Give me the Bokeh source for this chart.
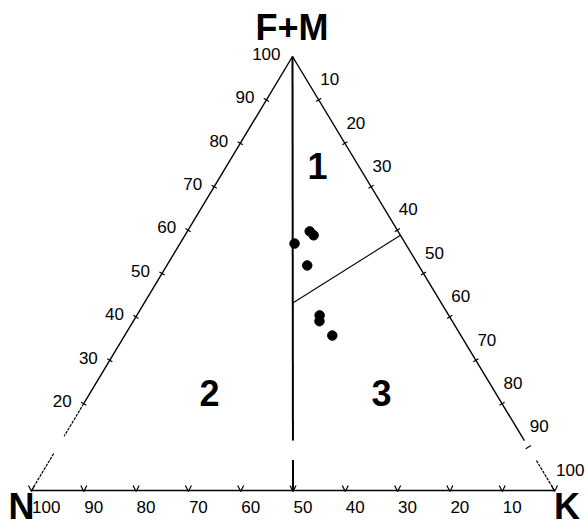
import numpy as np
from bokeh.plotting import figure
from bokeh.models import Range1d
from bokeh.embed import file_html
from bokeh.resources import INLINE
from bokeh.core.properties import value

# ---- data (ternary compositions, percent) ----
sample_N = [21.2, 16.9, 16.6, 21.3, 24.7, 25.4, 24.6]
sample_K = [21.9, 23.4, 24.6, 26.85, 34.95, 35.6, 39.7]
sample_FM = [56.9, 59.7, 58.8, 51.85, 40.35, 39.0, 35.7]

boundary_N = [28.4, 0.0]
boundary_K = [28.4, 41.2]
boundary_FM = [43.2, 58.8]

base_tick_labels = [100, 90, 80, 70, 60, 50, 40, 30, 20, 10]
left_tick_labels = [100, 90, 80, 70, 60, 50, 40, 30, 20]
right_tick_labels = [10, 20, 30, 40, 50, 60, 70, 80, 90, 100]
vertex_names = ["N", "K", "F+M"]
field_names = ["1", "2", "3"]

# ---- layout (page pixels) ----
W, H = 588, 529
VN = (31.0, 490.0)
VK = (554.0, 490.0)
VA = (292.0, 56.0)


def tern(n, k, fm):
    n = np.asarray(n, dtype=float)
    k = np.asarray(k, dtype=float)
    fm = np.asarray(fm, dtype=float)
    s = n + k + fm
    x = (n * VN[0] + k * VK[0] + fm * VA[0]) / s
    y = (n * VN[1] + k * VK[1] + fm * VA[1]) / s
    return x, y


p = figure(width=W, height=H, x_range=Range1d(0, W), y_range=Range1d(H, 0),
           output_backend="svg", toolbar_location=None, min_border=0)
p.axis.visible = False
p.grid.visible = False
p.outline_line_color = None
p.background_fill_color = "white"
p.border_fill_color = "white"


def seg(a, b, **kw):
    xs, ys = tern([a[0], b[0]], [a[1], b[1]], [a[2], b[2]])
    p.line(list(xs), list(ys), line_color="black", **kw)


# edges (with the blank band near the base)
seg((0, 0, 100), (80, 0, 20), line_width=1.4)
seg((80, 0, 20), (87.5, 0, 12.5), line_width=1.2, line_dash="3 1")
seg((91.5, 0, 8.5), (100, 0, 0), line_width=1.2, line_dash="3 1")
seg((0, 0, 100), (0, 88.5, 11.5), line_width=1.4)
seg((0, 93.1, 6.9), (0, 100, 0), line_width=1.2, line_dash="3 1")
seg((100, 0, 0), (0, 100, 0), line_width=1.6)
# N = K divider
seg((0, 0, 100), (44.25, 44.25, 11.5), line_width=2)
seg((46.5, 46.5, 7.0), (50, 50, 0), line_width=2)
# boundary between fields 1 and 3
bx, by = tern(boundary_N, boundary_K, boundary_FM)
p.line(list(bx), list(by), line_color="black", line_width=1.1)

# ticks
txs, tys = [], []
for v in base_tick_labels + [0]:
    x, y = tern(v, 100 - v, 0)
    txs.append([x - 3, x, x + 3])
    tys.append([y - 5, y + 1, y - 5])


def edge_ticks(vals, which):
    for v in vals:
        if which == "left":
            x, y = tern(100 - v, 0, v)
            dx, dy = VA[0] - VN[0], VA[1] - VN[1]
        else:
            x, y = tern(0, v, 100 - v)
            dx, dy = VK[0] - VA[0], VK[1] - VA[1]
        L = np.hypot(dx, dy)
        nx, ny = -dy / L, dx / L
        txs.append([x - 3 * nx, x + 3 * nx])
        tys.append([y - 3 * ny, y + 3 * ny])


edge_ticks(left_tick_labels[1:], "left")
edge_ticks(right_tick_labels[:-1], "right")
p.multi_line(txs, tys, line_color="black", line_width=1.2)

# sample points
sx, sy = tern(sample_N, sample_K, sample_FM)
p.scatter(list(sx), list(sy), size=9.5, marker="circle", fill_color="black", line_color="black")

font = value("Liberation Sans")
SMALL, BIG = 17, 36
DROP_S, DROP_B = 0.4 * SMALL, 0.4 * BIG
small = dict(text_font=font, text_font_size=f"{SMALL}px",
             text_baseline="alphabetic", text_color="black")
bold = dict(text_font=font, text_font_size=f"{BIG}px", text_font_style="bold",
            text_baseline="alphabetic", text_color="black")

# base labels
bxs, bys = tern(base_tick_labels, [100 - v for v in base_tick_labels], [0] * len(base_tick_labels))
p.text(list(bxs + 0.5), [513 - DROP_S] * len(bxs), text=[str(v) for v in base_tick_labels],
       text_align="left", **small)
# left labels
lxs, lys = tern([100 - v for v in left_tick_labels], [0] * len(left_tick_labels), left_tick_labels)
p.text(list(lxs - 12), list(lys + 4 - DROP_S), text=[str(v) for v in left_tick_labels],
       text_align="right", **small)
# right labels
rxs, rys = tern([0] * len(right_tick_labels), right_tick_labels, [100 - v for v in right_tick_labels])
p.text(list(rxs + 1.5), list(rys - 14 - DROP_S), text=[str(v) for v in right_tick_labels],
       text_align="left", **small)

# vertex names
p.text([8, 553.5], [520 - DROP_B, 520 - DROP_B], text=vertex_names[:2], text_align="left", **bold)
p.text([291.5], [41 - DROP_B], text=[vertex_names[2]], text_align="center", **bold)
# field labels
fx, fy = tern([8.3, 54.9, 22.0], [17.3, 23.0, 55.9], [74.4, 22.1, 22.1])
p.text(list(fx + np.array([1.4, 0, 0])), list(fy + 13 - DROP_B), text=field_names,
       text_align="center", **bold)

open("out.html", "w").write(file_html(p, INLINE))
